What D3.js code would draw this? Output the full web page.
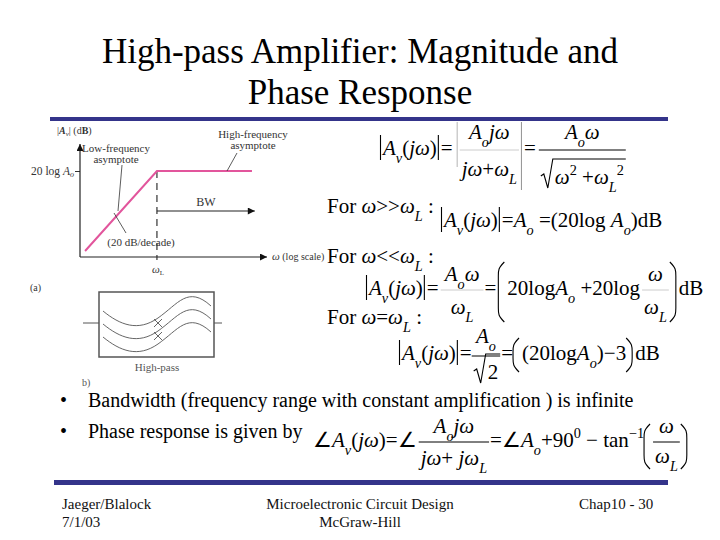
<!DOCTYPE html>
<html>
<head>
<meta charset="utf-8">
<script src="https://cdn.jsdelivr.net/npm/d3@7"></script>
<style>
  body { margin: 0; background: #fff; }
  svg { display: block; font-family: "Liberation Serif", "Times New Roman", serif; }
</style>
</head>
<body>
<svg id="slide" width="720" height="540"></svg>
<script>
// ---- data ----
const titleLines = ["High-pass Amplifier: Magnitude and", "Phase Response"];
const omega = [0.1, 1, 21];       // frequency relative to wL
const gainDb = [20, 40, 40];      // asymptotes, 20 log Ao taken as 40 dB
const yTicks = [40];
const xTicks = [1];
const bwRange = [1, 23];          // BW arrow, from wL upward
const bwLevel = 30;
const bullets = [
  "Bandwidth (frequency range with constant amplification ) is infinite",
  "Phase response is given by"
];
const footLeft = ["Jaeger/Blalock", "7/1/03"];
const footMid = ["Microelectronic Circuit Design", "McGraw-Hill"];
const footRight = ["Chap10 - 30"];

const svg = d3.select("#slide");
const navy = "#34348a";
const pink = "#e2559c";
const ink = "#333";

// title
svg.selectAll(".title")
  .data(titleLines)
  .enter().append("text")
  .attr("class", "title")
  .attr("x", 360)
  .attr("y", (d, i) => 63 + i * 41)
  .attr("text-anchor", "middle")
  .attr("font-size", 35)
  .text(d => d);

// rule bars
svg.append("rect").attr("x", 50).attr("y", 117).attr("width", 618).attr("height", 4).attr("fill", navy);
svg.append("rect").attr("x", 54).attr("y", 480).attr("width", 614).attr("height", 5).attr("fill", navy);

// ---- bode plot ----
const defs = svg.append("defs");
defs.append("marker")
  .attr("id", "arr")
  .attr("viewBox", "0 0 10 10")
  .attr("refX", 10).attr("refY", 5)
  .attr("markerWidth", 9).attr("markerHeight", 7)
  .attr("markerUnits", "userSpaceOnUse")
  .attr("orient", "auto")
  .append("path").attr("d", "M0,0L10,5L0,10z").attr("fill", "#111");

const x = d3.scaleLog().domain([0.085, 34]).range([80, 267]);
const y = d3.scaleLinear().domain([18.5, 40]).range([257, 171]);

const plot = svg.append("g").attr("font-size", 11).attr("fill", ink);

// axes: ticks from d3, domain lines replaced by arrows
const yAxis = plot.append("g")
  .attr("transform", "translate(80,0)")
  .call(d3.axisLeft(y).tickValues(yTicks).tickSize(5).tickFormat(""));
yAxis.select(".domain").remove();
yAxis.selectAll("line").attr("stroke", ink);

plot.append("line")
  .attr("x1", 80).attr("y1", y.range()[0])
  .attr("x2", 80).attr("y2", 144)
  .attr("stroke", "#222").attr("stroke-width", 1.2)
  .attr("marker-end", "url(#arr)");
plot.append("line")
  .attr("x1", 80).attr("y1", y.range()[0])
  .attr("x2", x.range()[1]).attr("y2", y.range()[0])
  .attr("stroke", "#222").attr("stroke-width", 1.2)
  .attr("marker-end", "url(#arr)");

// 20 log Ao label
yTicks.forEach(v => {
  const t = plot.append("text")
    .attr("x", 74).attr("y", y(v) + 4)
    .attr("text-anchor", "end").attr("font-size", 11.5);
  t.append("tspan").text("20 log ");
  t.append("tspan").attr("font-style", "italic").text("A");
  t.append("tspan").attr("font-style", "italic").attr("font-size", 8).attr("dy", 2).text("o");
});

// wL dashed marker
xTicks.forEach(v => {
  plot.append("line")
    .attr("x1", x(v)).attr("x2", x(v))
    .attr("y1", y(gainDb[1])).attr("y2", y.range()[0] + 3)
    .attr("stroke", ink).attr("stroke-width", 1.2)
    .attr("stroke-dasharray", "7,5");
  const t = plot.append("text")
    .attr("x", x(v) - 5).attr("y", y.range()[0] + 16);
  t.append("tspan").attr("font-style", "italic").text("ω");
  t.append("tspan").attr("font-size", 7).attr("dy", 2).text("L");
});

// asymptote curve
const pts = omega.map((w, i) => [w, gainDb[i]]);
plot.append("path")
  .datum(pts)
  .attr("fill", "none")
  .attr("stroke", pink)
  .attr("stroke-width", 2)
  .attr("d", d3.line().x(d => x(d[0])).y(d => y(d[1])));

// BW arrow
plot.append("line")
  .attr("x1", x(bwRange[0])).attr("y1", y(bwLevel))
  .attr("x2", x(bwRange[1])).attr("y2", y(bwLevel))
  .attr("stroke", "#222").attr("stroke-width", 1.2)
  .attr("marker-end", "url(#arr)");
plot.append("text").attr("x", 206).attr("y", y(bwLevel) - 5)
  .attr("text-anchor", "middle").attr("font-size", 12).text("BW");

// labels
const lab = plot.append("text").attr("x", 57).attr("y", 134).attr("font-size", 10);
lab.append("tspan").text("|");
lab.append("tspan").attr("font-style", "italic").attr("font-weight", "bold").text("A");
lab.append("tspan").attr("font-style", "italic").attr("font-size", 7).attr("dy", 2).text("v");
lab.append("tspan").attr("dy", -2).text("| (d");
lab.append("tspan").attr("font-weight", "bold").text("B");
lab.append("tspan").text(")");

plot.selectAll(".hf").data(["High-frequency", "asymptote"]).enter().append("text")
  .attr("x", 253).attr("y", (d, i) => 138 + i * 11)
  .attr("text-anchor", "middle").text(d => d);
plot.selectAll(".lf").data(["Low-frequency", "asymptote"]).enter().append("text")
  .attr("x", 116).attr("y", (d, i) => 152 + i * 11)
  .attr("text-anchor", "middle").text(d => d);
plot.append("text").attr("x", 141).attr("y", 246).attr("text-anchor", "middle").text("(20 dB/decade)");
plot.append("text").attr("x", 272).attr("y", y.range()[0] + 3).attr("font-size", 10)
  .html('<tspan font-style="italic" font-size="11">ω</tspan> (log scale)');

const leader = [[[237, 153], [227, 171]], [[122, 165], [118, 211]], [[114, 213], [126, 233]]];
leader.forEach(l => plot.append("line")
  .attr("x1", l[0][0]).attr("y1", l[0][1]).attr("x2", l[1][0]).attr("y2", l[1][1])
  .attr("stroke", ink).attr("stroke-width", 0.8));

plot.append("text").attr("x", 30).attr("y", 291).attr("font-size", 10).text("(a)");

// high-pass block icon
const icon = svg.append("g").attr("stroke", "#555").attr("fill", "none");
icon.append("rect").attr("x", 99).attr("y", 292).attr("width", 115).attr("height", 65).attr("stroke-width", 1.5);
icon.append("line").attr("x1", 83).attr("x2", 99).attr("y1", 323).attr("y2", 323);
icon.append("line").attr("x1", 214).attr("x2", 222).attr("y1", 323).attr("y2", 323);
[0, 13, 26].forEach(dy => {
  icon.append("path").attr("stroke-width", 0.9)
    .attr("d", `M103,${311 + dy} C120,${325 + dy} 138,${332 + dy} 158,${318 + dy} S188,${285 + dy} 211,${306 + dy}`);
});
icon.append("path").attr("stroke-width", 0.9).attr("d", "M154,319L162,327M162,319L154,327M154,332L162,340M162,332L154,340");
svg.append("text").attr("x", 157).attr("y", 371).attr("text-anchor", "middle")
  .attr("font-size", 11).attr("fill", "#555").text("High-pass");
svg.append("text").attr("x", 82).attr("y", 386).attr("font-size", 10).attr("fill", "#555").text("b)");

// ---- equations ----
const I = s => ({ s, it: true, sh: 0 });
const R = s => ({ s, it: false, sh: 0 });
const Sb = s => ({ s, it: true, sh: 1 });
const Sp = s => ({ s, it: false, sh: -1 });
const fs = 21;

function math(x0, y0, runs, anchor) {
  const t = svg.append("text").attr("x", x0).attr("y", y0)
    .attr("font-size", fs).attr("text-anchor", anchor || "start");
  let cur = 0;
  runs.forEach(r => {
    const off = r.sh === 1 ? 0.4 : r.sh === -1 ? -0.45 : 0;
    t.append("tspan")
      .attr("dy", (off - cur) * fs)
      .attr("font-style", r.it ? "italic" : "normal")
      .attr("font-size", r.sh ? fs * 0.68 : fs)
      .text(r.s);
    cur = off;
  });
  return t;
}
function measure(runs) {
  const t = math(0, -100, runs);
  const w = t.node().getComputedTextLength();
  t.remove();
  return w;
}
function seg(x1, y1, x2, y2, c, w) {
  svg.append("line").attr("x1", x1).attr("x2", x2).attr("y1", y1).attr("y2", y2)
    .attr("stroke", c || "#000").attr("stroke-width", w || 1);
}
// lay out one equation row left to right
function row(x0, yb, items) {
  let xc = x0;
  items.forEach(it => {
    if (Array.isArray(it)) {
      const t = math(xc, yb, it);
      xc += t.node().getComputedTextLength();
    } else if (it.gap !== undefined) {
      xc += it.gap;
    } else if (it.bar) {
      seg(xc + 1.5, yb - (it.up || 20), xc + 1.5, yb + (it.dn || 5), it.c, 1.1);
      xc += 4;
    } else if (it.paren) {
      const top = yb - it.up, bot = yb + it.dn;
      const d = it.paren === "("
        ? `M${xc + 6},${top}C${xc},${top + 6} ${xc},${top + 8} ${xc},${top + 14}L${xc},${bot - 14}C${xc},${bot - 8} ${xc},${bot - 6} ${xc + 6},${bot}`
        : `M${xc},${top}C${xc + 6},${top + 6} ${xc + 6},${top + 8} ${xc + 6},${top + 14}L${xc + 6},${bot - 14}C${xc + 6},${bot - 8} ${xc + 6},${bot - 6} ${xc},${bot}`;
      svg.append("path").attr("d", d).attr("fill", "none").attr("stroke", "#000").attr("stroke-width", 1.1);
      xc += 9;
    } else if (it.frac) {
      const [num, den] = it.frac;
      const rad = it.sqrt ? 14 : 0;
      const w = Math.max(measure(num), measure(den) + rad) + (it.pad || 4);
      math(xc + w / 2, yb - it.nUp, num, "middle");
      seg(xc, yb - it.b, xc + w, yb - it.b, it.c);
      math(xc + w / 2 + rad / 2, yb + it.dDn, den, "middle");
      if (it.sqrt) {
        const top = yb + it.dDn - 25;
        svg.append("path").attr("fill", "none").attr("stroke", "#000").attr("stroke-width", 1.1)
          .attr("d", `M${xc + 2},${yb + it.dDn - 8}L${xc + 5},${yb + it.dDn - 10}L${xc + 9},${yb + it.dDn + 4}L${xc + 14},${top}L${xc + w},${top}`);
      }
      xc += w + 1;
    }
  });
  return xc;
}
const BAR = { bar: 1 };
const lhs = [BAR, [I("A"), Sb("v"), R("("), I("j"), I("ω"), R(")")], BAR, [R("=")]];

// |Av(jw)| = |Ao jw/(jw+wL)| = Ao w / sqrt(w^2+wL^2)
row(379, 155, [
  ...lhs, { gap: 3 },
  { bar: 1, up: 33, dn: 12, c: "#bbb" },
  { frac: [[I("A"), Sb("o"), I("j"), I("ω")], [I("j"), I("ω"), R("+"), I("ω"), Sb("L")]], nUp: 16, b: 5, dDn: 21, c: "#ccc" },
  { bar: 1, up: 33, dn: 35, c: "#999" },
  [R(" =")], { gap: 3 },
  { frac: [[I("A"), Sb("o"), I("ω")], [I("ω"), Sp("2"), R(" +"), I("ω"), Sb("L"), Sp("2")]], nUp: 16, b: 5, dDn: 29, sqrt: true }
]);

// For w >> wL
math(327, 213, [R("For "), I("ω"), R(">>"), I("ω"), Sb("L"), R(" :")]);
row(440, 227, [...lhs, [R(" "), I("A"), Sb("o"), R(" =(20log "), I("A"), Sb("o"), R(")dB")]]);

// For w << wL
math(327, 263, [R("For "), I("ω"), R("<<"), I("ω"), Sb("L"), R(" :")]);
row(365, 295, [
  ...lhs, { gap: 2 },
  { frac: [[I("A"), Sb("o"), I("ω")], [I("ω"), Sb("L")]], nUp: 14, b: 5, dDn: 19, c: "#ccc", pad: 8 },
  [R("=")], { gap: 2 },
  { paren: "(", up: 33, dn: 27 },
  [R("20log"), I("A"), Sb("o"), R(" +20log")], { gap: 2 },
  { frac: [[I("ω")], [I("ω"), Sb("L")]], nUp: 14, b: 5, dDn: 19, c: "#ccc" },
  { paren: ")", up: 33, dn: 27 },
  [R("dB")]
]);

// For w = wL
math(327, 324, [R("For "), I("ω"), R("="), I("ω"), Sb("L"), R(" :")]);
row(398, 360, [
  ...lhs,
  { frac: [[I("A"), Sb("o")], [R("2")]], nUp: 17, b: 4, dDn: 19, sqrt: true },
  [R("=")],
  { paren: "(", up: 22, dn: 12 },
  [R("(20log"), I("A"), Sb("o"), R(")−3")],
  { paren: ")", up: 22, dn: 12 },
  [R("dB")]
]);

// bullets
svg.selectAll(".bul").data(bullets).enter().append("text")
  .attr("x", 88).attr("y", (d, i) => 407 + i * 31)
  .attr("font-size", 20).text(d => d);
svg.selectAll(".dot").data(bullets).enter().append("text")
  .attr("x", 60).attr("y", (d, i) => 407 + i * 31)
  .attr("font-size", 20).text("•");

// phase equation
row(313, 447, [
  [R("∠"), I("A"), Sb("v"), R("("), I("j"), I("ω"), R(")=∠")], { gap: 2 },
  { frac: [[I("A"), Sb("o"), I("j"), I("ω")], [I("j"), I("ω"), R("+ "), I("j"), I("ω"), Sb("L")]], nUp: 14, b: 5, dDn: 18 },
  [R("=∠"), I("A"), Sb("o"), R("+90"), Sp("0"), R(" − tan"), Sp("−1")],
  { paren: "(", up: 23, dn: 22 },
  { frac: [[I("ω")], [I("ω"), Sb("L")]], nUp: 14, b: 5, dDn: 16 },
  { paren: ")", up: 23, dn: 22 }
]);

// footer
const foot = svg.append("g").attr("font-size", 15).attr("fill", "#111");
footLeft.forEach((s, i) => foot.append("text").attr("x", 62).attr("y", 509 + i * 18).text(s));
footMid.forEach((s, i) => foot.append("text").attr("x", 360).attr("y", 509 + i * 18)
  .attr("text-anchor", "middle").text(s));
footRight.forEach((s, i) => foot.append("text").attr("x", 579).attr("y", 509 + i * 18).text(s));
</script>
</body>
</html>
